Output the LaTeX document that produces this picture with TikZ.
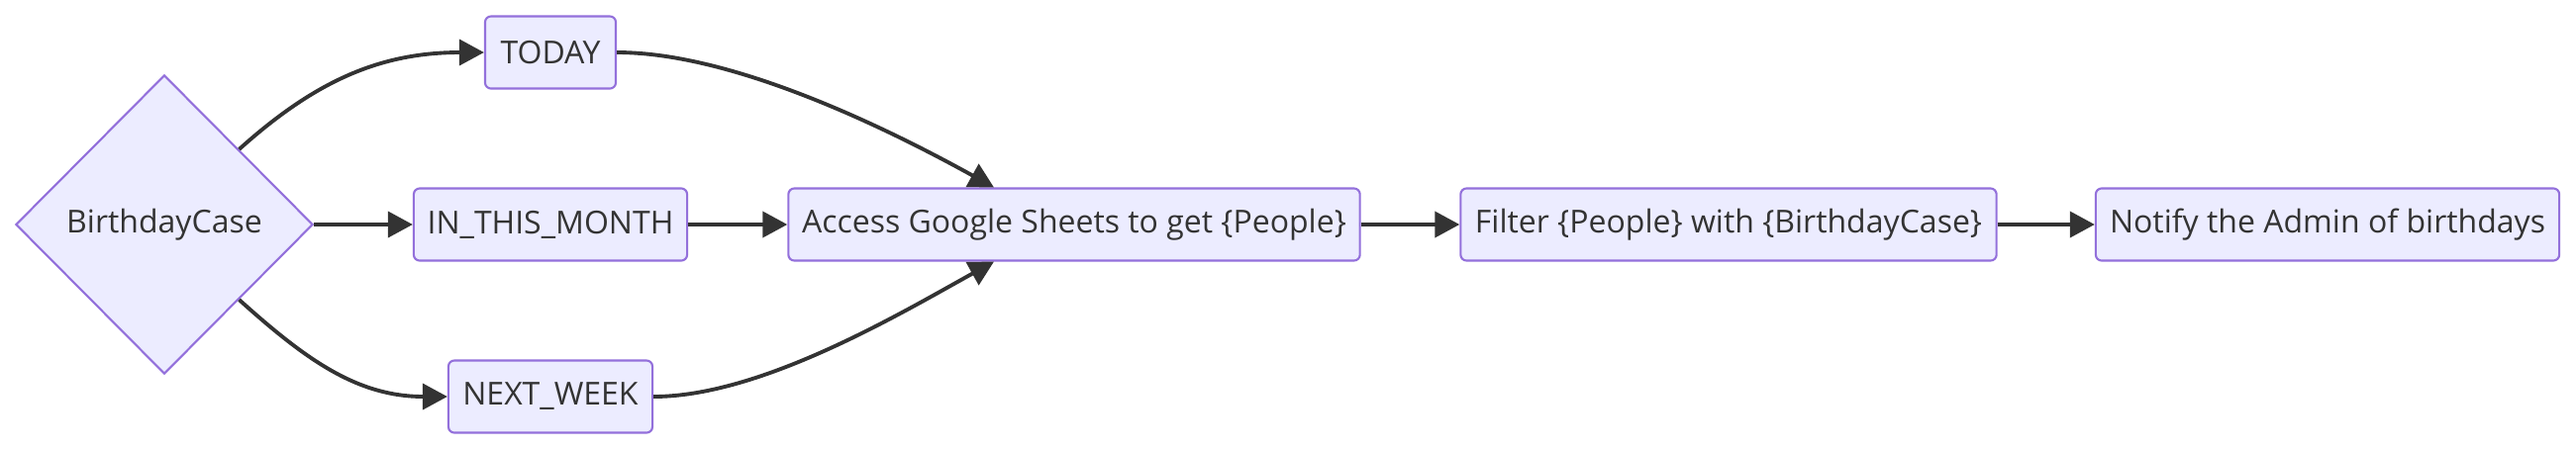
\documentclass[tikz,border=0pt]{standalone}
\usepackage{fontspec}
\setmainfont{Open Sans}
\usetikzlibrary{shapes.geometric,arrows.meta}
\definecolor{boxfill}{HTML}{ECECFF}
\definecolor{boxline}{HTML}{9370DB}
\definecolor{ink}{HTML}{333333}
\tikzset{
  box/.style={draw=boxline, fill=boxfill, rounded corners=0.6mm, line width=0.6pt,
    minimum height=0.73cm, inner xsep=0.12cm, text=ink, font=\fontsize{9.1}{10}\selectfont},
  decision/.style={diamond, draw=boxline, fill=boxfill, line width=0.6pt, aspect=1,
    minimum width=3cm, minimum height=3.02cm, inner sep=0pt, text=ink, font=\fontsize{9.1}{10}\selectfont},
  flow/.style={draw=ink, line width=1.1pt, -{Triangle[length=2.5mm,width=2.6mm]}}
}
\begin{document}
\begin{tikzpicture}[x=0.01cm,y=-0.01cm]
      \useasboundingbox (0,0) rectangle (2602,454);
      \node[decision] (bc) at (166,227) {BirthdayCase};
      \node[box, minimum width=1.32cm] (today) at (556,53) {TODAY};
      \node[box, minimum width=2.76cm] (month) at (556,227) {IN\_THIS\_MONTH};
      \node[box, minimum width=2.06cm] (week) at (556,401) {NEXT\_WEEK};
      \node[box, minimum width=5.77cm] (sheets) at (1085,227) {Access Google Sheets to get \{People\}};
      \node[box, minimum width=5.41cm] (filter) at (1746,227) {Filter \{People\} with \{BirthdayCase\}};
      \node[box, minimum width=4.68cm] (notify) at (2351,227) {Notify the Admin of birthdays};
      \coordinate (sheetstop) at ([xshift=-0.81cm]sheets.north);
      \coordinate (sheetsbot) at ([xshift=-0.81cm]sheets.south);
      \begin{scope}[flow]
        \draw (bc.north east) to[out=42,in=180] (today);
        \draw (bc) -- (month);
        \draw (bc.south east) to[out=-42,in=180] (week);
        \draw (today) to[out=0,in=151,looseness=0.75] (sheetstop);
        \draw (month) -- (sheets);
        \draw (week) to[out=0,in=209,looseness=0.75] (sheetsbot);
        \draw (sheets) -- (filter);
        \draw (filter) -- (notify);
      \end{scope}
    \end{tikzpicture}
\end{document}
